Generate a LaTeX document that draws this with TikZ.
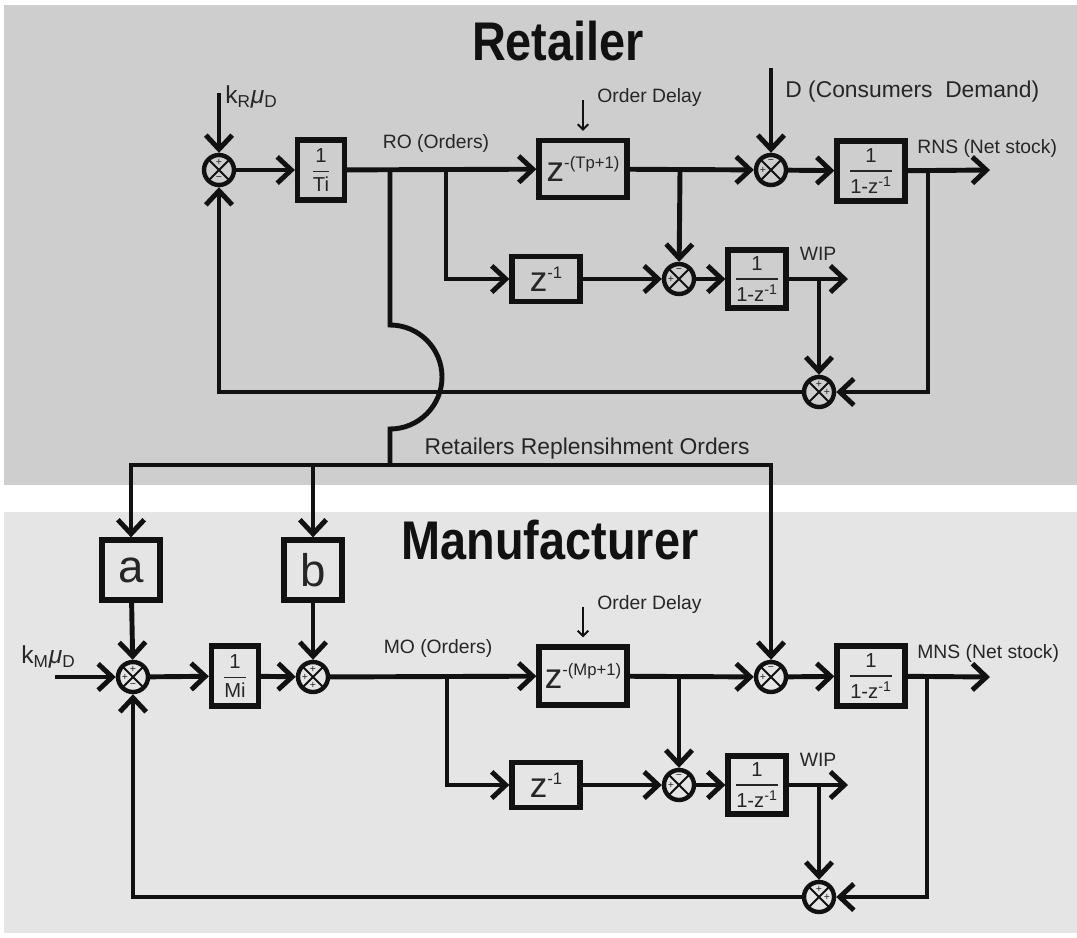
\documentclass[tikz,border=0pt]{standalone}
\usepackage{amsmath}
\usepackage{fontspec}
\setmainfont{Liberation Sans}
\usepackage{tikz}
\usetikzlibrary{arrows.meta,positioning,calc}
\definecolor{ink}{HTML}{111111}
\definecolor{txt}{HTML}{262626}
\definecolor{retbg}{HTML}{CECECE}
\definecolor{manbg}{HTML}{E5E5E5}
\newcommand{\zpow}[1]{{\fontsize{20}{20}\selectfont z}\raisebox{1.25ex}{\fontsize{9.5}{10}\selectfont #1}}
\newcommand{\blkfrac}[2]{$\genfrac{}{}{0.9pt}{0}{\text{#1}}{\text{#2}}$}

\begin{document}
\begin{tikzpicture}[x=0.02cm,y=-0.02cm,
  wire/.style={draw=ink, line width=2.8pt},
  sig/.style={wire, -{Straight Barb[length=8pt,width=15pt]}},
  dly/.style={draw=ink, line width=1.1pt, -{Straight Barb[length=3pt,width=6pt]}},
  blk/.style args={#1x#2}{draw=ink, line width=3pt, inner sep=0pt, text=txt,
    minimum width=#1*0.02cm, minimum height=#2*0.02cm, font=\fontsize{11.5}{13}\selectfont},
  sumj/.style={circle, draw=ink, line width=2.5pt, minimum size=0.6cm, inner sep=0pt,
    path picture={\draw[ink, line width=1.1pt]
      (path picture bounding box.north west) -- (path picture bounding box.south east)
      (path picture bounding box.north east) -- (path picture bounding box.south west);}},
  sgn/.style={font=\fontsize{6}{6}\selectfont, text=txt, inner sep=0pt},
  lbl/.style={font=\fontsize{11}{13}\selectfont, text=txt, inner sep=0pt},
  ttl/.style={font=\fontsize{31}{33}\selectfont\bfseries, text=ink, inner sep=0pt}]
  \useasboundingbox (0,0) rectangle (1077,937);
  \fill[retbg] (4,5) rectangle (1077,485);
  \fill[manbg] (4,512) rectangle (1077,933);

  \node[ttl] (rtitle) at (558,41) {\scalebox{0.86}[1]{Retailer}};
  \node[ttl] (mtitle) at (550,540) {\scalebox{0.86}[1]{Manufacturer}};

  % retailer
  \node[sumj] (s1) at (219,170) {};
  \node[blk=47x60] (ti) at (321,170) {\blkfrac{1}{Ti}};
  \node[blk=88x57] (zd1) at (583,169) {\zpow{-(Tp+1)}};
  \node[sumj] (s2) at (771,170) {};
  \node[blk=68x60] (ri) at (871,171) {\blkfrac{1}{1-z$^{\text{-1}}$}};
  \node[blk=68x45] (zm1) at (546,279) {\zpow{-1}};
  \node[sumj] (s3) at (679,279) {};
  \node[blk=58x58] (rwip) at (757,279) {\blkfrac{1}{1-z$^{\text{-1}}$}};
  \node[sumj] (s4) at (819,392) {};
  \coordinate (kr) at (219,93);
  \coordinate (dem) at (771,68);
  \coordinate (ro) at (390,170);
  \coordinate (rz) at (446,170);
  \coordinate (rw) at (680,170);
  \coordinate (rn) at (928,170);
  \coordinate (rnsout) at (990,170);
  \coordinate (rv) at (819,279);
  \coordinate (rwipout) at (848,279);
  \coordinate (rep) at (390,465);
  \coordinate (od1) at (583,100);

  \draw[sig] (kr) -- (s1);
  \draw[sig] (s1) -- (ti);
  \draw[sig] (ti) -- (zd1);
  \draw[sig] (rz) |- (zm1);
  \draw[sig] (zd1) -- (s2);
  \draw[sig] (dem) -- (s2);
  \draw[sig] (rw) -- (s3);
  \draw[sig] (s2) -- (ri);
  \draw[sig] (ri) -- (rnsout);
  \draw[sig] (rn) |- (s4);
  \draw[sig] (zm1) -- (s3);
  \draw[sig] (s3) -- (rwip);
  \draw[sig] (rwip) -- (rwipout);
  \draw[sig] (rv) -- (s4);
  \draw[sig] (s4) -| (s1);
  \draw[dly] (od1) -- ([yshift=4pt]zd1.north);
  \draw[wire] (ro) -- (390,325) arc[start angle=-90, end angle=90, radius=52] -- (rep);

  \node[lbl, anchor=west] (krlbl) at (225,97) {\fontsize{14}{15}\selectfont k\textsubscript{R}\textit{μ}\textsubscript{D}};
  \node[lbl] (rolbl) at (436,143) {RO (Orders)};
  \node[lbl, anchor=west] (odlbl1) at (597,97) {Order Delay};
  \node[lbl, anchor=west, font=\fontsize{13}{15}\selectfont] (dlbl) at (785,92) {D (Consumers\ \ Demand)};
  \node[lbl, anchor=west] (rnslbl) at (917,148) {RNS (Net stock)};
  \node[lbl] (wiplbl1) at (818,254) {WIP};
  \node[lbl, font=\fontsize{13}{15}\selectfont] (replbl) at (587,449) {Retailers Replensihment Orders};

  % manufacturer
  \node[blk=58x60] (ax) at (131,570) {\fontsize{26}{28}\selectfont a};
  \node[blk=58x60] (bx) at (313,570) {\fontsize{26}{28}\selectfont b};
  \node[sumj] (s5) at (133,677) {};
  \node[blk=47x60] (mi) at (235,676) {\blkfrac{1}{Mi}};
  \node[sumj] (s6) at (313,677) {};
  \node[blk=88x58] (zd2) at (583,676) {\zpow{-(Mp+1)}};
  \node[sumj] (s8) at (771,677) {};
  \node[blk=68x60] (mint) at (871,676) {\blkfrac{1}{1-z$^{\text{-1}}$}};
  \node[blk=68x45] (zm2) at (546,785) {\zpow{-1}};
  \node[sumj] (s7) at (679,785) {};
  \node[blk=58x58] (mwip) at (757,785) {\blkfrac{1}{1-z$^{\text{-1}}$}};
  \node[sumj] (s10) at (819,897) {};
  \coordinate (km) at (55,677);
  \coordinate (mz) at (447,677);
  \coordinate (mw) at (679,677);
  \coordinate (mn) at (927,677);
  \coordinate (mnsout) at (990,677);
  \coordinate (mv) at (819,785);
  \coordinate (mwipout) at (848,785);
  \coordinate (od2) at (583,607);

  \draw[sig] (rep) -| (ax);
  \draw[sig] (rep) -| (bx);
  \draw[sig] (rep) -| (s8);
  \draw[sig] (km) -- (s5);
  \draw[sig] (ax) -- (s5);
  \draw[sig] (bx) -- (s6);
  \draw[sig] (s5) -- (mi);
  \draw[sig] (mi) -- (s6);
  \draw[sig] (s6) -- (zd2);
  \draw[sig] (mz) |- (zm2);
  \draw[sig] (zd2) -- (s8);
  \draw[sig] (mw) -- (s7);
  \draw[sig] (s8) -- (mint);
  \draw[sig] (mint) -- (mnsout);
  \draw[sig] (mn) |- (s10);
  \draw[sig] (zm2) -- (s7);
  \draw[sig] (s7) -- (mwip);
  \draw[sig] (mwip) -- (mwipout);
  \draw[sig] (mv) -- (s10);
  \draw[sig] (s10) -| (s5);
  \draw[dly] (od2) -- ([yshift=4pt]zd2.north);

  \node[lbl, anchor=west] (kmlbl) at (21,657) {\fontsize{14}{15}\selectfont k\textsubscript{M}\textit{μ}\textsubscript{D}};
  \node[lbl] (molbl) at (438,648) {MO (Orders)};
  \node[lbl, anchor=west] (odlbl2) at (597,604) {Order Delay};
  \node[lbl, anchor=west] (mnslbl) at (917,653) {MNS (Net stock)};
  \node[lbl] (wiplbl2) at (818,760) {WIP};

  % signs in the summing junctions
  \foreach \s/\dx/\dy/\t [count=\n] in {s1/0/-8/+, s1/0/9/−, s2/0/-8/−, s2/-8/0/+,
      s3/0/-8/−, s3/-8/0/+, s4/0/-8/+, s4/8/0/+, s5/0/-8/+, s5/-8/0/+, s5/0/9/−,
      s6/0/-8/+, s6/-8/0/+, s6/0/8/+, s7/0/-8/−, s7/-8/0/+, s8/0/-8/−, s8/-8/0/+,
      s10/0/-8/+, s10/8/0/+}
    \node[sgn] (sg\n) at ($(\s)+(\dx,\dy)$) {\t};
\end{tikzpicture}
\end{document}
